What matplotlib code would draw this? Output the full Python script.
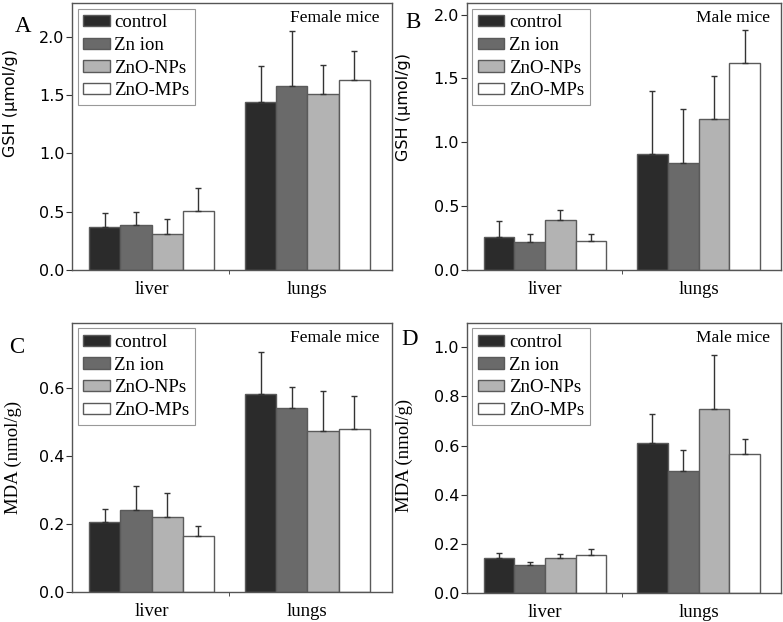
import numpy as np
import matplotlib
matplotlib.use("Agg")
import matplotlib.pyplot as plt

# Data
tissues = ["liver", "lungs"]
groups = ["control", "Zn ion", "ZnO-NPs", "ZnO-MPs"]
colors = ["#2b2b2b", "#6a6a6a", "#b3b3b3", "#ffffff"]

# GSH female (A): rows = groups, columns = liver, lungs
gsh_female = [[0.37, 1.44], [0.39, 1.58], [0.31, 1.51], [0.51, 1.63]]
gsh_female_top = [[0.49, 1.75], [0.50, 2.05], [0.44, 1.76], [0.70, 1.88]]

# GSH male (B)
gsh_male = [[0.26, 0.91], [0.22, 0.84], [0.39, 1.18], [0.23, 1.62]]
gsh_male_top = [[0.38, 1.40], [0.28, 1.26], [0.47, 1.52], [0.28, 1.88]]

# MDA female (C)
mda_female = [[0.205, 0.581], [0.242, 0.541], [0.220, 0.474], [0.166, 0.478]]
mda_female_top = [[0.243, 0.703], [0.310, 0.601], [0.291, 0.590], [0.193, 0.574]]

# MDA male (D)
mda_male = [[0.140, 0.611], [0.114, 0.498], [0.142, 0.748], [0.152, 0.567]]
mda_male_top = [[0.163, 0.728], [0.127, 0.580], [0.158, 0.970], [0.179, 0.627]]

serif = "Liberation Serif"
sans = "DejaVu Sans"
edge = "#5a5a5a"

fig = plt.figure(figsize=(7.83, 6.22), dpi=100)

panels = [
    # letter, rect, means, tops, ylim, yticks, ylabel, label font, label size, sex, letter pos, label xy
    ("A", [0.092, 0.566, 0.408, 0.429], gsh_female, gsh_female_top, 2.29,
     [0.0, 0.5, 1.0, 1.5, 2.0], "GSH (\u03bcmol/g)", sans, 11.5, "Female mice", (0.019, 0.975), (-0.17, 0.625)),
    ("B", [0.596, 0.566, 0.402, 0.429], gsh_male, gsh_male_top, 2.09,
     [0.0, 0.5, 1.0, 1.5, 2.0], "GSH (\u03bcmol/g)", sans, 11.5, "Male mice", (0.518, 0.98), (-0.178, 0.61)),
    ("C", [0.092, 0.048, 0.408, 0.433], mda_female, mda_female_top, 0.79,
     [0.0, 0.2, 0.4, 0.6], "MDA (nmol/g)", serif, 13.5, "Female mice", (0.012, 0.458), (-0.156, 0.5)),
    ("D", [0.596, 0.047, 0.402, 0.434], mda_male, mda_male_top, 1.10,
     [0.0, 0.2, 0.4, 0.6, 0.8, 1.0], "MDA (nmol/g)", serif, 13.5, "Male mice", (0.512, 0.471), (-0.171, 0.51)),
]

x = np.arange(1, len(tissues) + 1)
w = 0.2

for letter, rect, means, tops, ytop, yticks, ylab, labfont, labsize, sex, lpos, lxy in panels:
    ax = fig.add_axes(rect)
    for i, g in enumerate(groups):
        pos = x + (i - 1.5) * w
        m = np.array(means[i])
        t = np.array(tops[i])
        ax.bar(pos, m, width=w, color=colors[i], edgecolor=edge, linewidth=1.0,
               label=g, zorder=2)
        ax.errorbar(pos, m, yerr=[np.zeros_like(m), t - m], fmt="none",
                    ecolor="#333333", elinewidth=1.0, capsize=2.5, capthick=1.0, zorder=3)
    ax.set_xlim(0.49, 2.54)
    ax.set_ylim(0, ytop)
    ax.set_xticks(x)
    ax.set_xticklabels(tissues, fontfamily=serif, fontsize=13.5)
    ax.set_xticks([1.5], minor=True)
    ax.tick_params(axis="x", which="major", length=0, pad=8)
    ax.tick_params(axis="x", which="minor", length=3, direction="out", color="#333333")
    ax.set_yticks(yticks)
    ax.set_yticklabels(["%.1f" % v for v in yticks], fontfamily=sans, fontsize=11.5)
    ax.tick_params(axis="y", length=4, direction="out", pad=1.5, color="#333333")
    for s in ax.spines.values():
        s.set_color("#555555")
        s.set_linewidth(1.0)
    ax.set_ylabel(ylab, fontfamily=labfont, fontsize=labsize)
    ax.yaxis.set_label_coords(*lxy)
    leg = ax.legend(loc="upper left", prop={"family": serif, "size": 13.5},
                    fancybox=False, edgecolor="#999999", framealpha=1,
                    handlelength=1.4, handleheight=0.55, handletextpad=0.25,
                    labelspacing=0.3, borderpad=0.3, borderaxespad=0.3)
    leg.get_frame().set_linewidth(0.8)
    ax.text(0.963, 0.975, sex, transform=ax.transAxes, ha="right", va="top",
            fontfamily=serif, fontsize=12.5)
    fig.text(lpos[0], lpos[1], letter, fontfamily=serif, fontsize=16.5, va="top", ha="left")

fig.savefig("out.png", dpi=100)
